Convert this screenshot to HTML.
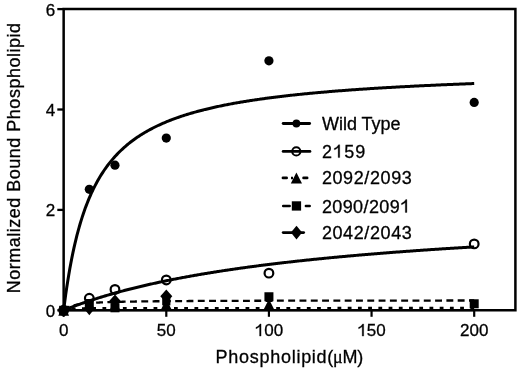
<!DOCTYPE html>
<html><head><meta charset="utf-8"><style>
html,body{margin:0;padding:0;background:#fff;width:520px;height:371px;overflow:hidden}
svg{display:block;filter:grayscale(1)}
text{font-family:"Liberation Sans",sans-serif;fill:#000;stroke:#000;stroke-width:0.3px}
.h{fill:none;stroke:none}
</style></head><body>
<svg width="520" height="371" viewBox="0 0 520 371">
<path d="M63.65,9.1 H515.4 V310.3 H63.65 Z" fill="none" stroke="#000" stroke-width="2.5"/>
<line x1="57.3" y1="310.30" x2="63.65" y2="310.30" stroke="#000" stroke-width="2.3"/>
<text x="55.3" y="316.80" font-size="17" text-anchor="end">0</text>
<line x1="57.3" y1="209.90" x2="63.65" y2="209.90" stroke="#000" stroke-width="2.3"/>
<text x="55.3" y="216.40" font-size="17" text-anchor="end">2</text>
<line x1="57.3" y1="109.50" x2="63.65" y2="109.50" stroke="#000" stroke-width="2.3"/>
<text x="55.3" y="116.00" font-size="17" text-anchor="end">4</text>
<line x1="57.3" y1="9.10" x2="63.65" y2="9.10" stroke="#000" stroke-width="2.3"/>
<text x="55.3" y="15.60" font-size="17" text-anchor="end">6</text>
<line x1="63.65" y1="310.3" x2="63.65" y2="316.8" stroke="#000" stroke-width="2.2"/>
<text id="xt0" x="63.65" y="336.1" font-size="17" text-anchor="middle">0</text>
<line x1="166.29" y1="310.3" x2="166.29" y2="316.8" stroke="#000" stroke-width="2.2"/>
<text id="xt50" x="166.29" y="336.1" font-size="17" text-anchor="middle">50</text>
<line x1="268.93" y1="310.3" x2="268.93" y2="316.8" stroke="#000" stroke-width="2.2"/>
<text id="xt100" x="268.93" y="336.1" font-size="17" text-anchor="middle"><tspan class="h">1</tspan>00</text>
<line x1="371.56" y1="310.3" x2="371.56" y2="316.8" stroke="#000" stroke-width="2.2"/>
<text id="xt150" x="371.56" y="336.1" font-size="17" text-anchor="middle"><tspan class="h">1</tspan>50</text>
<line x1="474.20" y1="310.3" x2="474.20" y2="316.8" stroke="#000" stroke-width="2.2"/>
<text id="xt200" x="474.20" y="336.1" font-size="17" text-anchor="middle">200</text>
<text x="215.6" y="362.8" font-size="18"><tspan letter-spacing="0.72">Phospholipid</tspan><tspan letter-spacing="-0.25">(<tspan font-family="Liberation Serif">&#956;</tspan>M)</tspan></text>
<text transform="translate(19.8,157.9) rotate(-90)" font-size="18" letter-spacing="0.5" text-anchor="middle">Normalized Bound Phospholipid</text>
<path d="M63.65,310.30 L64.68,310.23 L65.70,310.20 L66.73,310.18 L67.76,310.17 L68.78,310.16 L69.81,310.15 L70.83,310.14 L71.86,310.14 L72.89,310.14 L73.91,310.13 L74.94,310.13 L75.97,310.13 L76.99,310.13 L78.02,310.12 L79.05,310.12 L80.07,310.12 L81.10,310.12 L82.12,310.12 L83.15,310.12 L84.18,310.12 L85.20,310.12 L86.23,310.12 L87.26,310.12 L88.28,310.11 L89.31,310.11 L90.34,310.11 L91.36,310.11 L92.39,310.11 L93.41,310.11 L94.44,310.11 L95.47,310.11 L96.49,310.11 L97.52,310.11 L98.55,310.11 L99.57,310.11 L100.60,310.11 L101.63,310.11 L102.65,310.11 L103.68,310.11 L104.70,310.11 L105.73,310.11 L106.76,310.11 L107.78,310.11 L108.81,310.11 L109.84,310.11 L110.86,310.11 L111.89,310.11 L112.92,310.11 L113.94,310.11 L114.97,310.11 L116.00,310.11 L117.02,310.11 L118.05,310.11 L119.07,310.11 L120.10,310.11 L121.13,310.11 L122.15,310.11 L123.18,310.11 L124.21,310.11 L125.23,310.11 L126.26,310.11 L127.29,310.11 L128.31,310.11 L129.34,310.11 L130.36,310.11 L131.39,310.11 L132.42,310.11 L133.44,310.10 L134.47,310.10 L135.50,310.10 L136.52,310.10 L137.55,310.10 L138.58,310.10 L139.60,310.10 L140.63,310.10 L141.65,310.10 L142.68,310.10 L143.71,310.10 L144.73,310.10 L145.76,310.10 L146.79,310.10 L147.81,310.10 L148.84,310.10 L149.87,310.10 L150.89,310.10 L151.92,310.10 L152.94,310.10 L153.97,310.10 L155.00,310.10 L156.02,310.10 L157.05,310.10 L158.08,310.10 L159.10,310.10 L160.13,310.10 L161.16,310.10 L162.18,310.10 L163.21,310.10 L164.23,310.10 L165.26,310.10 L166.29,310.10 L167.31,310.10 L168.34,310.10 L169.37,310.10 L170.39,310.10 L171.42,310.10 L172.45,310.10 L173.47,310.10 L174.50,310.10 L175.52,310.10 L176.55,310.10 L177.58,310.10 L178.60,310.10 L179.63,310.10 L180.66,310.10 L181.68,310.10 L182.71,310.10 L183.74,310.10 L184.76,310.10 L185.79,310.10 L186.81,310.10 L187.84,310.10 L188.87,310.10 L189.89,310.10 L190.92,310.10 L191.95,310.10 L192.97,310.10 L194.00,310.10 L195.03,310.10 L196.05,310.10 L197.08,310.10 L198.11,310.10 L199.13,310.10 L200.16,310.10 L201.18,310.10 L202.21,310.10 L203.24,310.10 L204.26,310.10 L205.29,310.10 L206.32,310.10 L207.34,310.10 L208.37,310.10 L209.40,310.10 L210.42,310.10 L211.45,310.10 L212.47,310.10 L213.50,310.10 L214.53,310.10 L215.55,310.10 L216.58,310.10 L217.61,310.10 L218.63,310.10 L219.66,310.10 L220.69,310.10 L221.71,310.10 L222.74,310.10 L223.76,310.10 L224.79,310.10 L225.82,310.10 L226.84,310.10 L227.87,310.10 L228.90,310.10 L229.92,310.10 L230.95,310.10 L231.98,310.10 L233.00,310.10 L234.03,310.10 L235.05,310.10 L236.08,310.10 L237.11,310.10 L238.13,310.10 L239.16,310.10 L240.19,310.10 L241.21,310.10 L242.24,310.10 L243.27,310.10 L244.29,310.10 L245.32,310.10 L246.34,310.10 L247.37,310.10 L248.40,310.10 L249.42,310.10 L250.45,310.10 L251.48,310.10 L252.50,310.10 L253.53,310.10 L254.56,310.10 L255.58,310.10 L256.61,310.10 L257.63,310.10 L258.66,310.10 L259.69,310.10 L260.71,310.10 L261.74,310.10 L262.77,310.10 L263.79,310.10 L264.82,310.10 L265.85,310.10 L266.87,310.10 L267.90,310.10 L268.93,310.10 L269.95,310.10 L270.98,310.10 L272.00,310.10 L273.03,310.10 L274.06,310.10 L275.08,310.10 L276.11,310.10 L277.14,310.10 L278.16,310.10 L279.19,310.10 L280.22,310.10 L281.24,310.10 L282.27,310.10 L283.29,310.10 L284.32,310.10 L285.35,310.10 L286.37,310.10 L287.40,310.10 L288.43,310.10 L289.45,310.10 L290.48,310.10 L291.51,310.10 L292.53,310.10 L293.56,310.10 L294.58,310.10 L295.61,310.10 L296.64,310.10 L297.66,310.10 L298.69,310.10 L299.72,310.10 L300.74,310.10 L301.77,310.10 L302.80,310.10 L303.82,310.10 L304.85,310.10 L305.87,310.10 L306.90,310.10 L307.93,310.10 L308.95,310.10 L309.98,310.10 L311.01,310.10 L312.03,310.10 L313.06,310.10 L314.09,310.10 L315.11,310.10 L316.14,310.10 L317.16,310.10 L318.19,310.10 L319.22,310.10 L320.24,310.10 L321.27,310.10 L322.30,310.10 L323.32,310.10 L324.35,310.10 L325.38,310.10 L326.40,310.10 L327.43,310.10 L328.45,310.10 L329.48,310.10 L330.51,310.10 L331.53,310.10 L332.56,310.10 L333.59,310.10 L334.61,310.10 L335.64,310.10 L336.67,310.10 L337.69,310.10 L338.72,310.10 L339.74,310.10 L340.77,310.10 L341.80,310.10 L342.82,310.10 L343.85,310.10 L344.88,310.10 L345.90,310.10 L346.93,310.10 L347.96,310.10 L348.98,310.10 L350.01,310.10 L351.03,310.10 L352.06,310.10 L353.09,310.10 L354.11,310.10 L355.14,310.10 L356.17,310.10 L357.19,310.10 L358.22,310.10 L359.25,310.10 L360.27,310.10 L361.30,310.10 L362.33,310.10 L363.35,310.10 L364.38,310.10 L365.40,310.10 L366.43,310.10 L367.46,310.10 L368.48,310.10 L369.51,310.10 L370.54,310.10 L371.56,310.10 L372.59,310.10 L373.62,310.10 L374.64,310.10 L375.67,310.10 L376.69,310.10 L377.72,310.10 L378.75,310.10 L379.77,310.10 L380.80,310.10 L381.83,310.10 L382.85,310.10 L383.88,310.10 L384.91,310.10 L385.93,310.10 L386.96,310.10 L387.98,310.10 L389.01,310.10 L390.04,310.10 L391.06,310.10 L392.09,310.10 L393.12,310.10 L394.14,310.10 L395.17,310.10 L396.20,310.10 L397.22,310.10 L398.25,310.10 L399.27,310.10 L400.30,310.10 L401.33,310.10 L402.35,310.10 L403.38,310.10 L404.41,310.10 L405.43,310.10 L406.46,310.10 L407.49,310.10 L408.51,310.10 L409.54,310.10 L410.56,310.10 L411.59,310.10 L412.62,310.10 L413.64,310.10 L414.67,310.10 L415.70,310.10 L416.72,310.10 L417.75,310.10 L418.78,310.10 L419.80,310.10 L420.83,310.10 L421.85,310.10 L422.88,310.10 L423.91,310.10 L424.93,310.10 L425.96,310.10 L426.99,310.10 L428.01,310.10 L429.04,310.10 L430.07,310.10 L431.09,310.10 L432.12,310.10 L433.14,310.10 L434.17,310.10 L435.20,310.10 L436.22,310.10 L437.25,310.10 L438.28,310.10 L439.30,310.10 L440.33,310.10 L441.36,310.10 L442.38,310.10 L443.41,310.10 L444.44,310.10 L445.46,310.10 L446.49,310.10 L447.51,310.10 L448.54,310.10 L449.57,310.10 L450.59,310.10 L451.62,310.10 L452.65,310.10 L453.67,310.10 L454.70,310.10 L455.73,310.10 L456.75,310.10 L457.78,310.10 L458.80,310.10 L459.83,310.10 L460.86,310.10 L461.88,310.10 L462.91,310.10 L463.94,310.10 L464.96,310.10 L465.99,310.10 L467.02,310.10 L468.04,310.10 L469.07,310.10 L470.09,310.10 L471.12,310.10 L472.15,310.10 L473.17,310.10 L474.20,310.10" fill="none" stroke="#000" stroke-width="2.2"/>
<path d="M63.65,310.30 L64.68,309.84 L65.70,309.53 L66.73,309.31 L67.76,309.15 L68.78,309.02 L69.81,308.91 L70.83,308.83 L71.86,308.76 L72.89,308.70 L73.91,308.65 L74.94,308.61 L75.97,308.57 L76.99,308.53 L78.02,308.50 L79.05,308.48 L80.07,308.45 L81.10,308.43 L82.12,308.41 L83.15,308.39 L84.18,308.38 L85.20,308.36 L86.23,308.35 L87.26,308.33 L88.28,308.32 L89.31,308.31 L90.34,308.30 L91.36,308.29 L92.39,308.28 L93.41,308.27 L94.44,308.26 L95.47,308.25 L96.49,308.25 L97.52,308.24 L98.55,308.23 L99.57,308.23 L100.60,308.22 L101.63,308.22 L102.65,308.21 L103.68,308.21 L104.70,308.20 L105.73,308.20 L106.76,308.19 L107.78,308.19 L108.81,308.18 L109.84,308.18 L110.86,308.18 L111.89,308.17 L112.92,308.17 L113.94,308.17 L114.97,308.16 L116.00,308.16 L117.02,308.16 L118.05,308.15 L119.07,308.15 L120.10,308.15 L121.13,308.14 L122.15,308.14 L123.18,308.14 L124.21,308.14 L125.23,308.14 L126.26,308.13 L127.29,308.13 L128.31,308.13 L129.34,308.13 L130.36,308.12 L131.39,308.12 L132.42,308.12 L133.44,308.12 L134.47,308.12 L135.50,308.12 L136.52,308.11 L137.55,308.11 L138.58,308.11 L139.60,308.11 L140.63,308.11 L141.65,308.11 L142.68,308.10 L143.71,308.10 L144.73,308.10 L145.76,308.10 L146.79,308.10 L147.81,308.10 L148.84,308.10 L149.87,308.10 L150.89,308.09 L151.92,308.09 L152.94,308.09 L153.97,308.09 L155.00,308.09 L156.02,308.09 L157.05,308.09 L158.08,308.09 L159.10,308.09 L160.13,308.09 L161.16,308.08 L162.18,308.08 L163.21,308.08 L164.23,308.08 L165.26,308.08 L166.29,308.08 L167.31,308.08 L168.34,308.08 L169.37,308.08 L170.39,308.08 L171.42,308.08 L172.45,308.07 L173.47,308.07 L174.50,308.07 L175.52,308.07 L176.55,308.07 L177.58,308.07 L178.60,308.07 L179.63,308.07 L180.66,308.07 L181.68,308.07 L182.71,308.07 L183.74,308.07 L184.76,308.07 L185.79,308.07 L186.81,308.07 L187.84,308.06 L188.87,308.06 L189.89,308.06 L190.92,308.06 L191.95,308.06 L192.97,308.06 L194.00,308.06 L195.03,308.06 L196.05,308.06 L197.08,308.06 L198.11,308.06 L199.13,308.06 L200.16,308.06 L201.18,308.06 L202.21,308.06 L203.24,308.06 L204.26,308.06 L205.29,308.06 L206.32,308.06 L207.34,308.05 L208.37,308.05 L209.40,308.05 L210.42,308.05 L211.45,308.05 L212.47,308.05 L213.50,308.05 L214.53,308.05 L215.55,308.05 L216.58,308.05 L217.61,308.05 L218.63,308.05 L219.66,308.05 L220.69,308.05 L221.71,308.05 L222.74,308.05 L223.76,308.05 L224.79,308.05 L225.82,308.05 L226.84,308.05 L227.87,308.05 L228.90,308.05 L229.92,308.05 L230.95,308.05 L231.98,308.05 L233.00,308.05 L234.03,308.05 L235.05,308.04 L236.08,308.04 L237.11,308.04 L238.13,308.04 L239.16,308.04 L240.19,308.04 L241.21,308.04 L242.24,308.04 L243.27,308.04 L244.29,308.04 L245.32,308.04 L246.34,308.04 L247.37,308.04 L248.40,308.04 L249.42,308.04 L250.45,308.04 L251.48,308.04 L252.50,308.04 L253.53,308.04 L254.56,308.04 L255.58,308.04 L256.61,308.04 L257.63,308.04 L258.66,308.04 L259.69,308.04 L260.71,308.04 L261.74,308.04 L262.77,308.04 L263.79,308.04 L264.82,308.04 L265.85,308.04 L266.87,308.04 L267.90,308.04 L268.93,308.04 L269.95,308.04 L270.98,308.04 L272.00,308.04 L273.03,308.04 L274.06,308.03 L275.08,308.03 L276.11,308.03 L277.14,308.03 L278.16,308.03 L279.19,308.03 L280.22,308.03 L281.24,308.03 L282.27,308.03 L283.29,308.03 L284.32,308.03 L285.35,308.03 L286.37,308.03 L287.40,308.03 L288.43,308.03 L289.45,308.03 L290.48,308.03 L291.51,308.03 L292.53,308.03 L293.56,308.03 L294.58,308.03 L295.61,308.03 L296.64,308.03 L297.66,308.03 L298.69,308.03 L299.72,308.03 L300.74,308.03 L301.77,308.03 L302.80,308.03 L303.82,308.03 L304.85,308.03 L305.87,308.03 L306.90,308.03 L307.93,308.03 L308.95,308.03 L309.98,308.03 L311.01,308.03 L312.03,308.03 L313.06,308.03 L314.09,308.03 L315.11,308.03 L316.14,308.03 L317.16,308.03 L318.19,308.03 L319.22,308.03 L320.24,308.03 L321.27,308.03 L322.30,308.03 L323.32,308.03 L324.35,308.03 L325.38,308.03 L326.40,308.03 L327.43,308.03 L328.45,308.03 L329.48,308.03 L330.51,308.03 L331.53,308.03 L332.56,308.03 L333.59,308.03 L334.61,308.03 L335.64,308.03 L336.67,308.03 L337.69,308.02 L338.72,308.02 L339.74,308.02 L340.77,308.02 L341.80,308.02 L342.82,308.02 L343.85,308.02 L344.88,308.02 L345.90,308.02 L346.93,308.02 L347.96,308.02 L348.98,308.02 L350.01,308.02 L351.03,308.02 L352.06,308.02 L353.09,308.02 L354.11,308.02 L355.14,308.02 L356.17,308.02 L357.19,308.02 L358.22,308.02 L359.25,308.02 L360.27,308.02 L361.30,308.02 L362.33,308.02 L363.35,308.02 L364.38,308.02 L365.40,308.02 L366.43,308.02 L367.46,308.02 L368.48,308.02 L369.51,308.02 L370.54,308.02 L371.56,308.02 L372.59,308.02 L373.62,308.02 L374.64,308.02 L375.67,308.02 L376.69,308.02 L377.72,308.02 L378.75,308.02 L379.77,308.02 L380.80,308.02 L381.83,308.02 L382.85,308.02 L383.88,308.02 L384.91,308.02 L385.93,308.02 L386.96,308.02 L387.98,308.02 L389.01,308.02 L390.04,308.02 L391.06,308.02 L392.09,308.02 L393.12,308.02 L394.14,308.02 L395.17,308.02 L396.20,308.02 L397.22,308.02 L398.25,308.02 L399.27,308.02 L400.30,308.02 L401.33,308.02 L402.35,308.02 L403.38,308.02 L404.41,308.02 L405.43,308.02 L406.46,308.02 L407.49,308.02 L408.51,308.02 L409.54,308.02 L410.56,308.02 L411.59,308.02 L412.62,308.02 L413.64,308.02 L414.67,308.02 L415.70,308.02 L416.72,308.02 L417.75,308.02 L418.78,308.02 L419.80,308.02 L420.83,308.02 L421.85,308.02 L422.88,308.02 L423.91,308.02 L424.93,308.02 L425.96,308.02 L426.99,308.02 L428.01,308.02 L429.04,308.02 L430.07,308.02 L431.09,308.02 L432.12,308.02 L433.14,308.02 L434.17,308.02 L435.20,308.02 L436.22,308.02 L437.25,308.02 L438.28,308.02 L439.30,308.02 L440.33,308.02 L441.36,308.02 L442.38,308.02 L443.41,308.02 L444.44,308.02 L445.46,308.02 L446.49,308.02 L447.51,308.02 L448.54,308.02 L449.57,308.02 L450.59,308.02 L451.62,308.01 L452.65,308.01 L453.67,308.01 L454.70,308.01 L455.73,308.01 L456.75,308.01 L457.78,308.01 L458.80,308.01 L459.83,308.01 L460.86,308.01 L461.88,308.01 L462.91,308.01 L463.94,308.01 L464.96,308.01 L465.99,308.01 L467.02,308.01 L468.04,308.01 L469.07,308.01 L470.09,308.01 L471.12,308.01 L472.15,308.01 L473.17,308.01 L474.20,308.01" fill="none" stroke="#000" stroke-width="2.3" stroke-dasharray="3.8 6.42" stroke-dashoffset="1.88"/>
<path d="M63.65,310.30 L64.68,309.39 L65.70,308.63 L66.73,307.98 L67.76,307.43 L68.78,306.95 L69.81,306.54 L70.83,306.17 L71.86,305.84 L72.89,305.54 L73.91,305.28 L74.94,305.04 L75.97,304.82 L76.99,304.63 L78.02,304.44 L79.05,304.28 L80.07,304.12 L81.10,303.98 L82.12,303.85 L83.15,303.72 L84.18,303.61 L85.20,303.50 L86.23,303.40 L87.26,303.30 L88.28,303.21 L89.31,303.13 L90.34,303.05 L91.36,302.97 L92.39,302.90 L93.41,302.83 L94.44,302.77 L95.47,302.71 L96.49,302.65 L97.52,302.59 L98.55,302.54 L99.57,302.49 L100.60,302.44 L101.63,302.40 L102.65,302.35 L103.68,302.31 L104.70,302.27 L105.73,302.23 L106.76,302.19 L107.78,302.15 L108.81,302.12 L109.84,302.09 L110.86,302.05 L111.89,302.02 L112.92,301.99 L113.94,301.96 L114.97,301.93 L116.00,301.91 L117.02,301.88 L118.05,301.85 L119.07,301.83 L120.10,301.80 L121.13,301.78 L122.15,301.76 L123.18,301.74 L124.21,301.72 L125.23,301.69 L126.26,301.67 L127.29,301.65 L128.31,301.64 L129.34,301.62 L130.36,301.60 L131.39,301.58 L132.42,301.56 L133.44,301.55 L134.47,301.53 L135.50,301.51 L136.52,301.50 L137.55,301.48 L138.58,301.47 L139.60,301.46 L140.63,301.44 L141.65,301.43 L142.68,301.41 L143.71,301.40 L144.73,301.39 L145.76,301.38 L146.79,301.36 L147.81,301.35 L148.84,301.34 L149.87,301.33 L150.89,301.32 L151.92,301.31 L152.94,301.30 L153.97,301.28 L155.00,301.27 L156.02,301.26 L157.05,301.25 L158.08,301.24 L159.10,301.23 L160.13,301.23 L161.16,301.22 L162.18,301.21 L163.21,301.20 L164.23,301.19 L165.26,301.18 L166.29,301.17 L167.31,301.16 L168.34,301.16 L169.37,301.15 L170.39,301.14 L171.42,301.13 L172.45,301.13 L173.47,301.12 L174.50,301.11 L175.52,301.10 L176.55,301.10 L177.58,301.09 L178.60,301.08 L179.63,301.08 L180.66,301.07 L181.68,301.06 L182.71,301.06 L183.74,301.05 L184.76,301.04 L185.79,301.04 L186.81,301.03 L187.84,301.03 L188.87,301.02 L189.89,301.01 L190.92,301.01 L191.95,301.00 L192.97,301.00 L194.00,300.99 L195.03,300.99 L196.05,300.98 L197.08,300.98 L198.11,300.97 L199.13,300.97 L200.16,300.96 L201.18,300.96 L202.21,300.95 L203.24,300.95 L204.26,300.94 L205.29,300.94 L206.32,300.93 L207.34,300.93 L208.37,300.92 L209.40,300.92 L210.42,300.92 L211.45,300.91 L212.47,300.91 L213.50,300.90 L214.53,300.90 L215.55,300.90 L216.58,300.89 L217.61,300.89 L218.63,300.88 L219.66,300.88 L220.69,300.88 L221.71,300.87 L222.74,300.87 L223.76,300.86 L224.79,300.86 L225.82,300.86 L226.84,300.85 L227.87,300.85 L228.90,300.85 L229.92,300.84 L230.95,300.84 L231.98,300.84 L233.00,300.83 L234.03,300.83 L235.05,300.83 L236.08,300.82 L237.11,300.82 L238.13,300.82 L239.16,300.81 L240.19,300.81 L241.21,300.81 L242.24,300.81 L243.27,300.80 L244.29,300.80 L245.32,300.80 L246.34,300.79 L247.37,300.79 L248.40,300.79 L249.42,300.79 L250.45,300.78 L251.48,300.78 L252.50,300.78 L253.53,300.77 L254.56,300.77 L255.58,300.77 L256.61,300.77 L257.63,300.76 L258.66,300.76 L259.69,300.76 L260.71,300.76 L261.74,300.75 L262.77,300.75 L263.79,300.75 L264.82,300.75 L265.85,300.75 L266.87,300.74 L267.90,300.74 L268.93,300.74 L269.95,300.74 L270.98,300.73 L272.00,300.73 L273.03,300.73 L274.06,300.73 L275.08,300.72 L276.11,300.72 L277.14,300.72 L278.16,300.72 L279.19,300.72 L280.22,300.71 L281.24,300.71 L282.27,300.71 L283.29,300.71 L284.32,300.71 L285.35,300.70 L286.37,300.70 L287.40,300.70 L288.43,300.70 L289.45,300.70 L290.48,300.69 L291.51,300.69 L292.53,300.69 L293.56,300.69 L294.58,300.69 L295.61,300.69 L296.64,300.68 L297.66,300.68 L298.69,300.68 L299.72,300.68 L300.74,300.68 L301.77,300.67 L302.80,300.67 L303.82,300.67 L304.85,300.67 L305.87,300.67 L306.90,300.67 L307.93,300.66 L308.95,300.66 L309.98,300.66 L311.01,300.66 L312.03,300.66 L313.06,300.66 L314.09,300.66 L315.11,300.65 L316.14,300.65 L317.16,300.65 L318.19,300.65 L319.22,300.65 L320.24,300.65 L321.27,300.64 L322.30,300.64 L323.32,300.64 L324.35,300.64 L325.38,300.64 L326.40,300.64 L327.43,300.64 L328.45,300.63 L329.48,300.63 L330.51,300.63 L331.53,300.63 L332.56,300.63 L333.59,300.63 L334.61,300.63 L335.64,300.63 L336.67,300.62 L337.69,300.62 L338.72,300.62 L339.74,300.62 L340.77,300.62 L341.80,300.62 L342.82,300.62 L343.85,300.61 L344.88,300.61 L345.90,300.61 L346.93,300.61 L347.96,300.61 L348.98,300.61 L350.01,300.61 L351.03,300.61 L352.06,300.61 L353.09,300.60 L354.11,300.60 L355.14,300.60 L356.17,300.60 L357.19,300.60 L358.22,300.60 L359.25,300.60 L360.27,300.60 L361.30,300.59 L362.33,300.59 L363.35,300.59 L364.38,300.59 L365.40,300.59 L366.43,300.59 L367.46,300.59 L368.48,300.59 L369.51,300.59 L370.54,300.58 L371.56,300.58 L372.59,300.58 L373.62,300.58 L374.64,300.58 L375.67,300.58 L376.69,300.58 L377.72,300.58 L378.75,300.58 L379.77,300.58 L380.80,300.57 L381.83,300.57 L382.85,300.57 L383.88,300.57 L384.91,300.57 L385.93,300.57 L386.96,300.57 L387.98,300.57 L389.01,300.57 L390.04,300.57 L391.06,300.57 L392.09,300.56 L393.12,300.56 L394.14,300.56 L395.17,300.56 L396.20,300.56 L397.22,300.56 L398.25,300.56 L399.27,300.56 L400.30,300.56 L401.33,300.56 L402.35,300.56 L403.38,300.55 L404.41,300.55 L405.43,300.55 L406.46,300.55 L407.49,300.55 L408.51,300.55 L409.54,300.55 L410.56,300.55 L411.59,300.55 L412.62,300.55 L413.64,300.55 L414.67,300.55 L415.70,300.54 L416.72,300.54 L417.75,300.54 L418.78,300.54 L419.80,300.54 L420.83,300.54 L421.85,300.54 L422.88,300.54 L423.91,300.54 L424.93,300.54 L425.96,300.54 L426.99,300.54 L428.01,300.54 L429.04,300.53 L430.07,300.53 L431.09,300.53 L432.12,300.53 L433.14,300.53 L434.17,300.53 L435.20,300.53 L436.22,300.53 L437.25,300.53 L438.28,300.53 L439.30,300.53 L440.33,300.53 L441.36,300.53 L442.38,300.52 L443.41,300.52 L444.44,300.52 L445.46,300.52 L446.49,300.52 L447.51,300.52 L448.54,300.52 L449.57,300.52 L450.59,300.52 L451.62,300.52 L452.65,300.52 L453.67,300.52 L454.70,300.52 L455.73,300.52 L456.75,300.52 L457.78,300.51 L458.80,300.51 L459.83,300.51 L460.86,300.51 L461.88,300.51 L462.91,300.51 L463.94,300.51 L464.96,300.51 L465.99,300.51 L467.02,300.51 L468.04,300.51 L469.07,300.51 L470.09,300.51 L471.12,300.51 L472.15,300.51 L473.17,300.51 L474.20,300.50" fill="none" stroke="#000" stroke-width="2.3" stroke-dasharray="6.9 4.40" stroke-dashoffset="11.25"/>
<path d="M63.65,303.55 L69.15,310.30 L63.65,317.05 L58.15,310.30 Z" fill="#000"/>
<path d="M89.31,301.74 L94.81,308.49 L89.31,315.24 L83.81,308.49 Z" fill="#000"/>
<path d="M114.97,294.51 L120.97,301.26 L114.97,308.01 L108.97,301.26 Z" fill="#000"/>
<path d="M166.29,289.49 L172.29,296.24 L166.29,302.99 L160.29,296.24 Z" fill="#000"/>
<path d="M63.65,304.90 L69.05,315.70 L58.25,315.70 Z" fill="#000"/>
<path d="M89.31,299.63 L94.71,310.43 L83.91,310.43 Z" fill="#000"/>
<path d="M114.97,299.38 L120.37,310.18 L109.57,310.18 Z" fill="#000"/>
<path d="M166.29,298.88 L171.69,309.68 L160.89,309.68 Z" fill="#000"/>
<path d="M268.93,298.98 L274.32,309.78 L263.53,309.78 Z" fill="#000"/>
<rect x="59.15" y="305.80" width="9.0" height="9.0" fill="#000"/>
<rect x="84.81" y="299.02" width="9.0" height="9.0" fill="#000"/>
<rect x="110.47" y="303.29" width="9.0" height="9.0" fill="#000"/>
<rect x="162.19" y="297.16" width="8.2" height="8.2" fill="#000"/>
<rect x="264.43" y="292.25" width="9.0" height="9.0" fill="#000"/>
<rect x="469.70" y="299.27" width="9.0" height="9.0" fill="#000"/>
<circle cx="63.65" cy="310.30" r="4.35" fill="none" stroke="#000" stroke-width="2.2"/>
<circle cx="89.31" cy="298.25" r="4.35" fill="none" stroke="#000" stroke-width="2.2"/>
<circle cx="114.97" cy="289.47" r="4.35" fill="none" stroke="#000" stroke-width="2.2"/>
<circle cx="166.29" cy="279.93" r="4.35" fill="none" stroke="#000" stroke-width="2.2"/>
<circle cx="268.93" cy="273.15" r="4.35" fill="none" stroke="#000" stroke-width="2.2"/>
<circle cx="474.20" cy="243.89" r="4.35" fill="none" stroke="#000" stroke-width="2.2"/>
<path d="M63.65,310.30 L64.68,309.89 L65.70,309.48 L66.73,309.07 L67.76,308.67 L68.78,308.27 L69.81,307.87 L70.83,307.48 L71.86,307.09 L72.89,306.70 L73.91,306.32 L74.94,305.94 L75.97,305.56 L76.99,305.18 L78.02,304.81 L79.05,304.44 L80.07,304.08 L81.10,303.71 L82.12,303.35 L83.15,302.99 L84.18,302.64 L85.20,302.28 L86.23,301.93 L87.26,301.58 L88.28,301.24 L89.31,300.89 L90.34,300.55 L91.36,300.22 L92.39,299.88 L93.41,299.55 L94.44,299.22 L95.47,298.89 L96.49,298.56 L97.52,298.24 L98.55,297.92 L99.57,297.60 L100.60,297.28 L101.63,296.97 L102.65,296.65 L103.68,296.34 L104.70,296.03 L105.73,295.73 L106.76,295.42 L107.78,295.12 L108.81,294.82 L109.84,294.53 L110.86,294.23 L111.89,293.94 L112.92,293.64 L113.94,293.35 L114.97,293.07 L116.00,292.78 L117.02,292.50 L118.05,292.21 L119.07,291.93 L120.10,291.66 L121.13,291.38 L122.15,291.11 L123.18,290.83 L124.21,290.56 L125.23,290.29 L126.26,290.02 L127.29,289.76 L128.31,289.49 L129.34,289.23 L130.36,288.97 L131.39,288.71 L132.42,288.45 L133.44,288.20 L134.47,287.94 L135.50,287.69 L136.52,287.44 L137.55,287.19 L138.58,286.94 L139.60,286.70 L140.63,286.45 L141.65,286.21 L142.68,285.97 L143.71,285.73 L144.73,285.49 L145.76,285.25 L146.79,285.01 L147.81,284.78 L148.84,284.55 L149.87,284.31 L150.89,284.08 L151.92,283.85 L152.94,283.63 L153.97,283.40 L155.00,283.18 L156.02,282.95 L157.05,282.73 L158.08,282.51 L159.10,282.29 L160.13,282.07 L161.16,281.85 L162.18,281.64 L163.21,281.42 L164.23,281.21 L165.26,281.00 L166.29,280.79 L167.31,280.58 L168.34,280.37 L169.37,280.16 L170.39,279.95 L171.42,279.75 L172.45,279.55 L173.47,279.34 L174.50,279.14 L175.52,278.94 L176.55,278.74 L177.58,278.54 L178.60,278.35 L179.63,278.15 L180.66,277.96 L181.68,277.76 L182.71,277.57 L183.74,277.38 L184.76,277.19 L185.79,277.00 L186.81,276.81 L187.84,276.62 L188.87,276.43 L189.89,276.25 L190.92,276.06 L191.95,275.88 L192.97,275.70 L194.00,275.52 L195.03,275.34 L196.05,275.16 L197.08,274.98 L198.11,274.80 L199.13,274.62 L200.16,274.45 L201.18,274.27 L202.21,274.10 L203.24,273.92 L204.26,273.75 L205.29,273.58 L206.32,273.41 L207.34,273.24 L208.37,273.07 L209.40,272.90 L210.42,272.74 L211.45,272.57 L212.47,272.40 L213.50,272.24 L214.53,272.08 L215.55,271.91 L216.58,271.75 L217.61,271.59 L218.63,271.43 L219.66,271.27 L220.69,271.11 L221.71,270.95 L222.74,270.80 L223.76,270.64 L224.79,270.48 L225.82,270.33 L226.84,270.18 L227.87,270.02 L228.90,269.87 L229.92,269.72 L230.95,269.57 L231.98,269.42 L233.00,269.27 L234.03,269.12 L235.05,268.97 L236.08,268.82 L237.11,268.67 L238.13,268.53 L239.16,268.38 L240.19,268.24 L241.21,268.09 L242.24,267.95 L243.27,267.81 L244.29,267.67 L245.32,267.52 L246.34,267.38 L247.37,267.24 L248.40,267.10 L249.42,266.97 L250.45,266.83 L251.48,266.69 L252.50,266.55 L253.53,266.42 L254.56,266.28 L255.58,266.15 L256.61,266.01 L257.63,265.88 L258.66,265.75 L259.69,265.61 L260.71,265.48 L261.74,265.35 L262.77,265.22 L263.79,265.09 L264.82,264.96 L265.85,264.83 L266.87,264.70 L267.90,264.57 L268.93,264.45 L269.95,264.32 L270.98,264.19 L272.00,264.07 L273.03,263.94 L274.06,263.82 L275.08,263.70 L276.11,263.57 L277.14,263.45 L278.16,263.33 L279.19,263.21 L280.22,263.09 L281.24,262.96 L282.27,262.84 L283.29,262.72 L284.32,262.61 L285.35,262.49 L286.37,262.37 L287.40,262.25 L288.43,262.13 L289.45,262.02 L290.48,261.90 L291.51,261.79 L292.53,261.67 L293.56,261.56 L294.58,261.44 L295.61,261.33 L296.64,261.22 L297.66,261.10 L298.69,260.99 L299.72,260.88 L300.74,260.77 L301.77,260.66 L302.80,260.55 L303.82,260.44 L304.85,260.33 L305.87,260.22 L306.90,260.11 L307.93,260.00 L308.95,259.89 L309.98,259.79 L311.01,259.68 L312.03,259.57 L313.06,259.47 L314.09,259.36 L315.11,259.26 L316.14,259.15 L317.16,259.05 L318.19,258.95 L319.22,258.84 L320.24,258.74 L321.27,258.64 L322.30,258.53 L323.32,258.43 L324.35,258.33 L325.38,258.23 L326.40,258.13 L327.43,258.03 L328.45,257.93 L329.48,257.83 L330.51,257.73 L331.53,257.63 L332.56,257.54 L333.59,257.44 L334.61,257.34 L335.64,257.24 L336.67,257.15 L337.69,257.05 L338.72,256.95 L339.74,256.86 L340.77,256.76 L341.80,256.67 L342.82,256.58 L343.85,256.48 L344.88,256.39 L345.90,256.29 L346.93,256.20 L347.96,256.11 L348.98,256.02 L350.01,255.92 L351.03,255.83 L352.06,255.74 L353.09,255.65 L354.11,255.56 L355.14,255.47 L356.17,255.38 L357.19,255.29 L358.22,255.20 L359.25,255.11 L360.27,255.02 L361.30,254.94 L362.33,254.85 L363.35,254.76 L364.38,254.67 L365.40,254.59 L366.43,254.50 L367.46,254.41 L368.48,254.33 L369.51,254.24 L370.54,254.16 L371.56,254.07 L372.59,253.99 L373.62,253.90 L374.64,253.82 L375.67,253.74 L376.69,253.65 L377.72,253.57 L378.75,253.49 L379.77,253.40 L380.80,253.32 L381.83,253.24 L382.85,253.16 L383.88,253.08 L384.91,253.00 L385.93,252.91 L386.96,252.83 L387.98,252.75 L389.01,252.67 L390.04,252.59 L391.06,252.51 L392.09,252.44 L393.12,252.36 L394.14,252.28 L395.17,252.20 L396.20,252.12 L397.22,252.04 L398.25,251.97 L399.27,251.89 L400.30,251.81 L401.33,251.74 L402.35,251.66 L403.38,251.58 L404.41,251.51 L405.43,251.43 L406.46,251.36 L407.49,251.28 L408.51,251.21 L409.54,251.13 L410.56,251.06 L411.59,250.98 L412.62,250.91 L413.64,250.84 L414.67,250.76 L415.70,250.69 L416.72,250.62 L417.75,250.55 L418.78,250.47 L419.80,250.40 L420.83,250.33 L421.85,250.26 L422.88,250.19 L423.91,250.11 L424.93,250.04 L425.96,249.97 L426.99,249.90 L428.01,249.83 L429.04,249.76 L430.07,249.69 L431.09,249.62 L432.12,249.55 L433.14,249.49 L434.17,249.42 L435.20,249.35 L436.22,249.28 L437.25,249.21 L438.28,249.14 L439.30,249.08 L440.33,249.01 L441.36,248.94 L442.38,248.87 L443.41,248.81 L444.44,248.74 L445.46,248.67 L446.49,248.61 L447.51,248.54 L448.54,248.48 L449.57,248.41 L450.59,248.35 L451.62,248.28 L452.65,248.22 L453.67,248.15 L454.70,248.09 L455.73,248.02 L456.75,247.96 L457.78,247.89 L458.80,247.83 L459.83,247.77 L460.86,247.70 L461.88,247.64 L462.91,247.58 L463.94,247.52 L464.96,247.45 L465.99,247.39 L467.02,247.33 L468.04,247.27 L469.07,247.20 L470.09,247.14 L471.12,247.08 L472.15,247.02 L473.17,246.96 L474.20,246.90" fill="none" stroke="#000" stroke-width="3.0"/>
<path d="M63.65,310.30 L64.68,302.22 L65.70,294.67 L66.73,287.58 L67.76,280.92 L68.78,274.65 L69.81,268.74 L70.83,263.15 L71.86,257.87 L72.89,252.86 L73.91,248.11 L74.94,243.60 L75.97,239.31 L76.99,235.22 L78.02,231.32 L79.05,227.59 L80.07,224.03 L81.10,220.63 L82.12,217.37 L83.15,214.25 L84.18,211.25 L85.20,208.37 L86.23,205.61 L87.26,202.95 L88.28,200.39 L89.31,197.93 L90.34,195.55 L91.36,193.26 L92.39,191.05 L93.41,188.92 L94.44,186.85 L95.47,184.86 L96.49,182.93 L97.52,181.07 L98.55,179.26 L99.57,177.51 L100.60,175.81 L101.63,174.17 L102.65,172.57 L103.68,171.02 L104.70,169.52 L105.73,168.06 L106.76,166.64 L107.78,165.26 L108.81,163.91 L109.84,162.61 L110.86,161.33 L111.89,160.09 L112.92,158.89 L113.94,157.71 L114.97,156.57 L116.00,155.45 L117.02,154.36 L118.05,153.29 L119.07,152.26 L120.10,151.24 L121.13,150.25 L122.15,149.29 L123.18,148.34 L124.21,147.42 L125.23,146.52 L126.26,145.64 L127.29,144.77 L128.31,143.93 L129.34,143.10 L130.36,142.30 L131.39,141.51 L132.42,140.73 L133.44,139.97 L134.47,139.23 L135.50,138.50 L136.52,137.79 L137.55,137.09 L138.58,136.40 L139.60,135.73 L140.63,135.07 L141.65,134.42 L142.68,133.79 L143.71,133.16 L144.73,132.55 L145.76,131.95 L146.79,131.36 L147.81,130.78 L148.84,130.21 L149.87,129.65 L150.89,129.11 L151.92,128.57 L152.94,128.04 L153.97,127.52 L155.00,127.00 L156.02,126.50 L157.05,126.01 L158.08,125.52 L159.10,125.04 L160.13,124.57 L161.16,124.10 L162.18,123.65 L163.21,123.20 L164.23,122.76 L165.26,122.32 L166.29,121.89 L167.31,121.47 L168.34,121.06 L169.37,120.65 L170.39,120.25 L171.42,119.85 L172.45,119.46 L173.47,119.07 L174.50,118.69 L175.52,118.32 L176.55,117.95 L177.58,117.59 L178.60,117.23 L179.63,116.88 L180.66,116.53 L181.68,116.18 L182.71,115.85 L183.74,115.51 L184.76,115.18 L185.79,114.86 L186.81,114.54 L187.84,114.22 L188.87,113.91 L189.89,113.60 L190.92,113.30 L191.95,112.99 L192.97,112.70 L194.00,112.41 L195.03,112.12 L196.05,111.83 L197.08,111.55 L198.11,111.27 L199.13,111.00 L200.16,110.73 L201.18,110.46 L202.21,110.19 L203.24,109.93 L204.26,109.67 L205.29,109.42 L206.32,109.17 L207.34,108.92 L208.37,108.67 L209.40,108.43 L210.42,108.19 L211.45,107.95 L212.47,107.72 L213.50,107.48 L214.53,107.25 L215.55,107.03 L216.58,106.80 L217.61,106.58 L218.63,106.36 L219.66,106.14 L220.69,105.93 L221.71,105.72 L222.74,105.51 L223.76,105.30 L224.79,105.09 L225.82,104.89 L226.84,104.69 L227.87,104.49 L228.90,104.29 L229.92,104.10 L230.95,103.90 L231.98,103.71 L233.00,103.52 L234.03,103.34 L235.05,103.15 L236.08,102.97 L237.11,102.79 L238.13,102.61 L239.16,102.43 L240.19,102.25 L241.21,102.08 L242.24,101.91 L243.27,101.74 L244.29,101.57 L245.32,101.40 L246.34,101.23 L247.37,101.07 L248.40,100.91 L249.42,100.74 L250.45,100.59 L251.48,100.43 L252.50,100.27 L253.53,100.12 L254.56,99.96 L255.58,99.81 L256.61,99.66 L257.63,99.51 L258.66,99.36 L259.69,99.21 L260.71,99.07 L261.74,98.92 L262.77,98.78 L263.79,98.64 L264.82,98.50 L265.85,98.36 L266.87,98.22 L267.90,98.08 L268.93,97.95 L269.95,97.81 L270.98,97.68 L272.00,97.55 L273.03,97.42 L274.06,97.29 L275.08,97.16 L276.11,97.03 L277.14,96.91 L278.16,96.78 L279.19,96.66 L280.22,96.53 L281.24,96.41 L282.27,96.29 L283.29,96.17 L284.32,96.05 L285.35,95.93 L286.37,95.81 L287.40,95.70 L288.43,95.58 L289.45,95.47 L290.48,95.35 L291.51,95.24 L292.53,95.13 L293.56,95.02 L294.58,94.91 L295.61,94.80 L296.64,94.69 L297.66,94.58 L298.69,94.48 L299.72,94.37 L300.74,94.26 L301.77,94.16 L302.80,94.06 L303.82,93.95 L304.85,93.85 L305.87,93.75 L306.90,93.65 L307.93,93.55 L308.95,93.45 L309.98,93.35 L311.01,93.26 L312.03,93.16 L313.06,93.06 L314.09,92.97 L315.11,92.87 L316.14,92.78 L317.16,92.69 L318.19,92.59 L319.22,92.50 L320.24,92.41 L321.27,92.32 L322.30,92.23 L323.32,92.14 L324.35,92.05 L325.38,91.96 L326.40,91.88 L327.43,91.79 L328.45,91.70 L329.48,91.62 L330.51,91.53 L331.53,91.45 L332.56,91.36 L333.59,91.28 L334.61,91.20 L335.64,91.12 L336.67,91.03 L337.69,90.95 L338.72,90.87 L339.74,90.79 L340.77,90.71 L341.80,90.63 L342.82,90.56 L343.85,90.48 L344.88,90.40 L345.90,90.32 L346.93,90.25 L347.96,90.17 L348.98,90.10 L350.01,90.02 L351.03,89.95 L352.06,89.87 L353.09,89.80 L354.11,89.73 L355.14,89.65 L356.17,89.58 L357.19,89.51 L358.22,89.44 L359.25,89.37 L360.27,89.30 L361.30,89.23 L362.33,89.16 L363.35,89.09 L364.38,89.02 L365.40,88.95 L366.43,88.89 L367.46,88.82 L368.48,88.75 L369.51,88.69 L370.54,88.62 L371.56,88.55 L372.59,88.49 L373.62,88.42 L374.64,88.36 L375.67,88.30 L376.69,88.23 L377.72,88.17 L378.75,88.11 L379.77,88.04 L380.80,87.98 L381.83,87.92 L382.85,87.86 L383.88,87.80 L384.91,87.74 L385.93,87.68 L386.96,87.62 L387.98,87.56 L389.01,87.50 L390.04,87.44 L391.06,87.38 L392.09,87.32 L393.12,87.26 L394.14,87.21 L395.17,87.15 L396.20,87.09 L397.22,87.04 L398.25,86.98 L399.27,86.92 L400.30,86.87 L401.33,86.81 L402.35,86.76 L403.38,86.70 L404.41,86.65 L405.43,86.59 L406.46,86.54 L407.49,86.49 L408.51,86.43 L409.54,86.38 L410.56,86.33 L411.59,86.27 L412.62,86.22 L413.64,86.17 L414.67,86.12 L415.70,86.07 L416.72,86.02 L417.75,85.97 L418.78,85.92 L419.80,85.87 L420.83,85.82 L421.85,85.77 L422.88,85.72 L423.91,85.67 L424.93,85.62 L425.96,85.57 L426.99,85.52 L428.01,85.47 L429.04,85.43 L430.07,85.38 L431.09,85.33 L432.12,85.28 L433.14,85.24 L434.17,85.19 L435.20,85.14 L436.22,85.10 L437.25,85.05 L438.28,85.01 L439.30,84.96 L440.33,84.91 L441.36,84.87 L442.38,84.82 L443.41,84.78 L444.44,84.74 L445.46,84.69 L446.49,84.65 L447.51,84.60 L448.54,84.56 L449.57,84.52 L450.59,84.47 L451.62,84.43 L452.65,84.39 L453.67,84.35 L454.70,84.30 L455.73,84.26 L456.75,84.22 L457.78,84.18 L458.80,84.14 L459.83,84.10 L460.86,84.05 L461.88,84.01 L462.91,83.97 L463.94,83.93 L464.96,83.89 L465.99,83.85 L467.02,83.81 L468.04,83.77 L469.07,83.73 L470.09,83.69 L471.12,83.66 L472.15,83.62 L473.17,83.58 L474.20,83.54" fill="none" stroke="#000" stroke-width="3.0"/>
<circle cx="63.65" cy="310.30" r="4.6" fill="#000"/>
<circle cx="89.31" cy="189.32" r="4.6" fill="#000"/>
<circle cx="114.97" cy="165.22" r="4.6" fill="#000"/>
<circle cx="166.29" cy="138.11" r="4.6" fill="#000"/>
<circle cx="268.93" cy="60.81" r="4.6" fill="#000"/>
<circle cx="474.20" cy="102.47" r="4.6" fill="#000"/>
<line x1="283.2" y1="123.5" x2="309.6" y2="123.5" stroke="#000" stroke-width="2.9" stroke-linecap="round"/>
<circle cx="296.40" cy="123.50" r="3.9" fill="#000"/>
<text id="lg0" x="321.9" y="129.6" font-size="18" letter-spacing="0">Wild Type</text>
<line x1="283.2" y1="151.4" x2="309.9" y2="151.4" stroke="#000" stroke-width="2.9" stroke-linecap="round"/>
<circle cx="296.30" cy="151.40" r="4.1" fill="none" stroke="#000" stroke-width="2.0"/>
<text id="lg1" x="321.9" y="157.6" font-size="18" letter-spacing="1.1">2<tspan class="h">1</tspan>59</text>
<line x1="283.0" y1="177.9" x2="286.6" y2="177.9" stroke="#000" stroke-width="2.8" stroke-linecap="round"/>
<line x1="303.6" y1="177.9" x2="307.1" y2="177.9" stroke="#000" stroke-width="2.8" stroke-linecap="round"/>
<line x1="291" y1="177.9" x2="293" y2="177.9" stroke="#000" stroke-width="2.5"/>
<path d="M296.40,172.40 L302.00,183.40 L290.80,183.40 Z" fill="#000"/>
<text id="lg2" x="321.9" y="183.5" font-size="18" letter-spacing="0.6">2092/2093</text>
<line x1="283.2" y1="206.1" x2="289.7" y2="206.1" stroke="#000" stroke-width="2.5" stroke-linecap="round"/>
<line x1="305.9" y1="206.1" x2="309.7" y2="206.1" stroke="#000" stroke-width="2.5" stroke-linecap="round"/>
<rect x="291.80" y="201.30" width="9.3" height="9.3" fill="#000"/>
<text id="lg3" x="321.9" y="212.5" font-size="18" letter-spacing="0.4">2090/209<tspan class="h">1</tspan></text>
<line x1="283.2" y1="232.6" x2="303.6" y2="232.6" stroke="#000" stroke-width="2.9" stroke-linecap="round"/>
<path d="M296.50,225.70 L302.10,232.60 L296.50,239.50 L290.90,232.60 Z" fill="#000"/>
<text id="lg4" x="321.9" y="238.5" font-size="18" letter-spacing="0.6">2042/2043</text>
<path d="M261.07,336.10 L259.57,336.10 L259.57,326.58 L259.03,327.09 L258.30,327.61 L257.46,328.11 L256.70,328.44 L255.95,328.77 L255.95,327.33 L257.22,326.72 L258.22,326.01 L259.05,325.23 L259.63,324.48 L259.96,323.93 L261.07,323.93 Z" fill="#000" stroke="#000" stroke-width="0.3"/>
<path d="M363.70,336.10 L362.20,336.10 L362.20,326.58 L361.66,327.09 L360.93,327.61 L360.09,328.11 L359.33,328.44 L358.58,328.77 L358.58,327.33 L359.85,326.72 L360.85,326.01 L361.68,325.23 L362.26,324.48 L362.59,323.93 L363.70,323.93 Z" fill="#000" stroke="#000" stroke-width="0.3"/>
<path d="M339.73,157.60 L338.15,157.60 L338.15,147.52 L337.58,148.06 L336.80,148.61 L335.91,149.14 L335.11,149.49 L334.31,149.84 L334.31,148.31 L335.66,147.67 L336.72,146.92 L337.60,146.09 L338.21,145.30 L338.56,144.72 L339.73,144.72 Z" fill="#000" stroke="#000" stroke-width="0.3"/>
<path d="M406.89,212.50 L405.31,212.50 L405.31,202.42 L404.73,202.96 L403.95,203.51 L403.06,204.04 L402.26,204.39 L401.46,204.74 L401.46,203.21 L402.82,202.57 L403.87,201.82 L404.75,200.99 L405.37,200.20 L405.72,199.62 L406.89,199.62 Z" fill="#000" stroke="#000" stroke-width="0.3"/>
</svg></body></html>
